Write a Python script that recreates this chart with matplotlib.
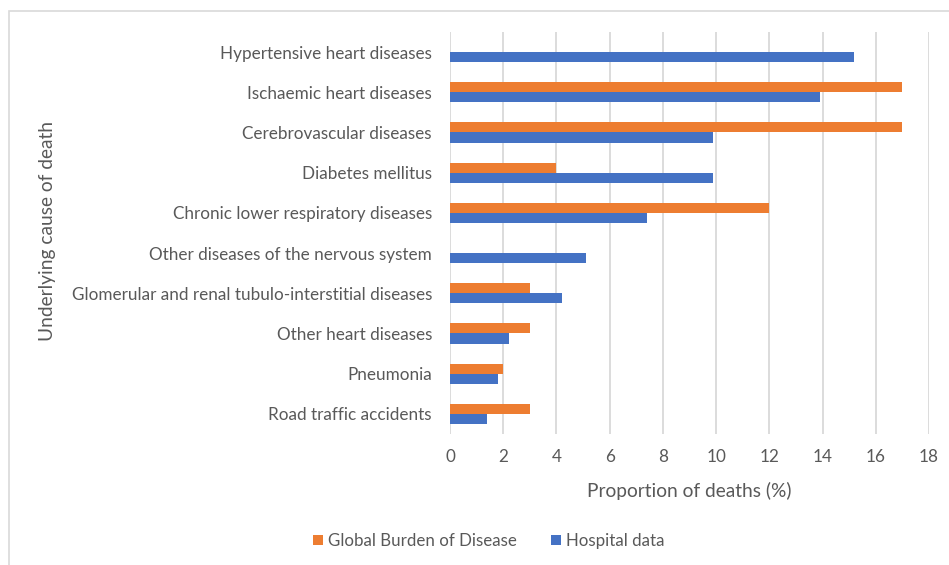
import matplotlib.pyplot as plt
import matplotlib.patches as mpatches
import numpy as np

causes = ['Hypertensive heart diseases', 'Ischaemic heart diseases', 'Cerebrovascular diseases',
          'Diabetes mellitus', 'Chronic lower respiratory diseases',
          'Other diseases of the nervous system', 'Glomerular and renal tubulo-interstitial diseases',
          'Other heart diseases', 'Pneumonia', 'Road traffic accidents']
gbd = [0, 17.0, 17.0, 4.0, 12.0, 0, 3.0, 3.0, 2.0, 3.0]
hospital = [15.2, 13.9, 9.9, 9.9, 7.4, 5.1, 4.2, 2.2, 1.8, 1.4]

plt.rcParams['font.family'] = ['Lato', 'DejaVu Sans']
grey = '#595959'
orange = '#ED7D31'
blue = '#4472C4'

fig = plt.figure(figsize=(9.49, 5.65), dpi=100)
fig.patches.append(mpatches.Rectangle((9/949, -0.1), 1.2, 1 - 11/565 + 0.1, transform=fig.transFigure,
                                      fill=False, edgecolor='#D9D9D9', linewidth=1.2, zorder=0))
ax = fig.add_axes([450/949, 1 - 434/565, 479/949, 402/565])

y = np.arange(len(causes))
h = 0.25
ax.barh(y - h/2, gbd, height=h, color=orange, label='Global Burden of Disease', zorder=3)
ax.barh(y + h/2, hospital, height=h, color=blue, label='Hospital data', zorder=3)

ax.set_xlim(0, 18)
ax.set_ylim(len(causes) - 0.5, -0.5)
ax.set_xticks(range(0, 19, 2))
ax.set_yticks(y)
ax.set_yticklabels(causes)
ax.tick_params(axis='both', length=0, colors=grey, labelsize=12.3)
ax.tick_params(axis='y', pad=13)
ax.tick_params(axis='x', pad=11)
ax.grid(axis='x', color='#D9D9D9', linewidth=1.3, zorder=0)
for s in ax.spines.values():
    s.set_visible(False)

ax.set_xlabel('Proportion of deaths (%)', color=grey, fontsize=13.8, labelpad=12)
fig.text(48/949, 1 - 231/565, 'Underlying cause of death', rotation=90, color=grey, fontsize=13.8,
         ha='center', va='center')

handles, labels = ax.get_legend_handles_labels()
fig.legend(handles, labels, loc='center', bbox_to_anchor=(489/949, 1 - 541/565), ncol=2, frameon=False,
           fontsize=12.2, labelcolor=grey, handlelength=0.6, handleheight=0.6, handletextpad=0.3,
           columnspacing=2.0)

fig.savefig('out.png', dpi=100)
